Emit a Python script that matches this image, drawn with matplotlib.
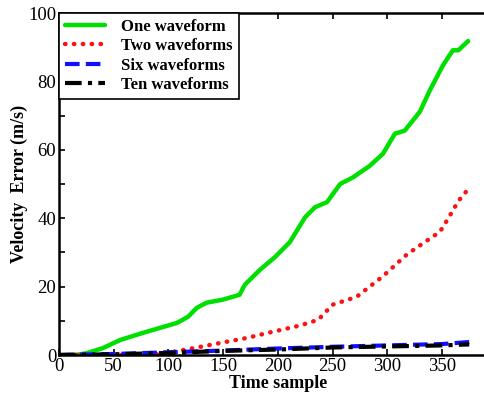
import matplotlib
matplotlib.use("Agg")
import matplotlib.pyplot as plt
from matplotlib.ticker import MultipleLocator, FuncFormatter, FixedLocator

# Data
one_x = [0, 10, 15, 25, 40, 56, 77, 92, 108, 118, 126, 135, 150, 165, 170, 184, 197, 211, 225, 234,
         245, 257, 269, 284, 296, 307, 316, 330, 339, 351, 360, 365, 374]
one_y = [0, 0, 0, 0.5, 2.0, 4.4, 6.5, 7.9, 9.4, 11.2, 13.8, 15.3, 16.2, 17.6, 20.6, 25.0, 28.5, 33.0,
         40.3, 43.2, 44.7, 50.0, 52.0, 55.3, 58.8, 64.7, 65.6, 71.2, 77.4, 84.7, 89.1, 89.1, 91.8]

two_x = [0, 50, 90, 104, 123, 147, 172, 190, 220, 237, 250, 272, 296, 318, 342, 348, 357, 365, 374]
two_y = [0, 0, 0.2, 0.9, 2.0, 3.5, 5.0, 6.4, 8.6, 10.3, 14.7, 17.0, 23.0, 29.4, 34.7, 35.9, 40.6, 45.0, 48.5]

six_x = [0, 50, 100, 150, 200, 250, 300, 350, 375]
six_y = [0, 0.3, 0.8, 1.3, 1.9, 2.4, 2.8, 3.2, 3.8]

ten_x = [0, 50, 100, 150, 200, 250, 300, 350, 375]
ten_y = [0, 0.2, 0.6, 1.2, 1.6, 2.2, 2.5, 2.8, 3.1]

x_ticks = [0, 50, 100, 150, 200, 250, 300, 350]
labels = ["One waveform", "Two waveforms", "Six waveforms", "Ten waveforms"]
x_label = "Time sample"
y_label = "Velocity  Error (m/s)"

plt.rcParams["font.family"] = ["Liberation Serif", "DejaVu Serif"]

fig = plt.figure(figsize=(4.84, 4.05), dpi=100)
ax = fig.add_axes([59 / 484, 1 - 355 / 405, 437.6 / 484, 342 / 405])

ax.plot(one_x, one_y, color="#00e000", lw=3.2, solid_capstyle="round", solid_joinstyle="round",
        label=labels[0])
ax.plot(two_x, two_y, color="#ff1010", lw=3.2, linestyle=(0, (0.1, 1.9)), dash_capstyle="round",
        label=labels[1])
ax.plot(six_x, six_y, color="#1010ff", lw=3.0, linestyle=(0, (3.5, 1.5)), label=labels[2])
ax.plot(ten_x, ten_y, color="black", lw=3.0, linestyle=(0, (4, 1.5, 1, 1.5)), label=labels[3])

ax.set_xlim(0, 400)
ax.set_ylim(0, 100)
ax.xaxis.set_major_locator(FixedLocator(x_ticks))
ax.yaxis.set_major_locator(MultipleLocator(10))
ax.yaxis.set_major_formatter(FuncFormatter(lambda v, p: f"{int(v)}" if int(round(v)) % 20 == 0 else ""))
ax.tick_params(direction="in", top=True, right=True, labelsize=13.5, length=4, width=1.2, pad=2)
for s in ax.spines.values():
    s.set_linewidth(1.8)

ax.set_xlabel(x_label, fontsize=13, fontweight="bold", labelpad=0)
ax.set_ylabel(y_label, fontsize=13, fontweight="bold", labelpad=0)

leg = ax.legend(loc="upper left", bbox_to_anchor=(0, 1), borderaxespad=0, fancybox=False,
                edgecolor="black", framealpha=1, prop={"weight": "bold", "size": 12},
                handlelength=2.4, handletextpad=1.0, labelspacing=0.2, borderpad=0.35)
leg.get_frame().set_linewidth(1.2)

fig.savefig("out.png", dpi=100)
